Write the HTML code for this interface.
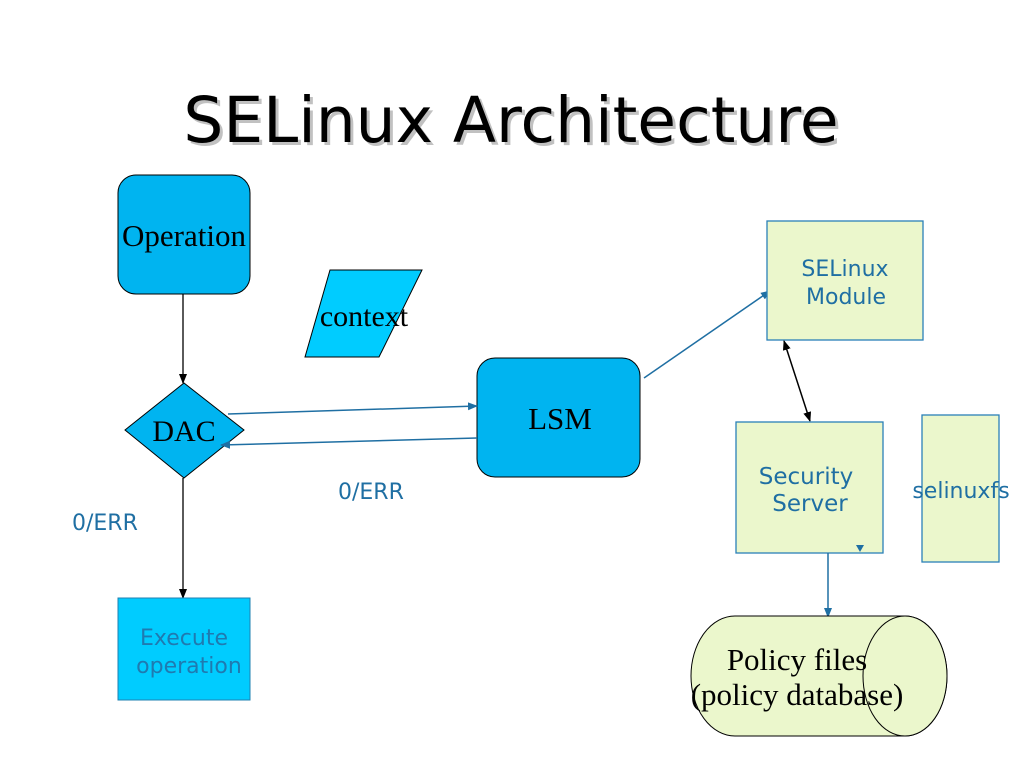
<!DOCTYPE html>
<html><head><meta charset="utf-8"><style>body{margin:0;background:#fff}svg{display:block}</style></head><body>
<svg width="1024" height="768" viewBox="0 0 1024 768" xmlns="http://www.w3.org/2000/svg">
<defs>
<marker id="ab" markerWidth="10" markerHeight="10" refX="9" refY="5" orient="auto" markerUnits="userSpaceOnUse"><path d="M0,1 L10,5 L0,9 z" fill="#000"/></marker>
<marker id="ab2" markerWidth="10" markerHeight="10" refX="1" refY="5" orient="auto" markerUnits="userSpaceOnUse"><path d="M10,1 L0,5 L10,9 z" fill="#000"/></marker>
<marker id="au" markerWidth="10" markerHeight="10" refX="9" refY="5" orient="auto" markerUnits="userSpaceOnUse"><path d="M0,1 L10,5 L0,9 z" fill="#1f6fa3"/></marker>
</defs>
<text x="514" y="145" text-anchor="middle" font-family="'DejaVu Sans','Liberation Sans',sans-serif" font-size="63" fill="#999" opacity="0.6">SELinux Architecture</text>
<text x="511" y="142" text-anchor="middle" font-family="'DejaVu Sans','Liberation Sans',sans-serif" font-size="63" fill="#000">SELinux Architecture</text>

<rect x="118" y="175" width="132" height="119" rx="18" fill="#00b4f0" stroke="#000" stroke-width="1"/>
<text x="184" y="246" text-anchor="middle" font-family="'Liberation Serif',serif" font-size="31">Operation</text>

<polygon points="330,270 422,270 379,357 305,357" fill="#00ccff" stroke="#000"/>
<text x="364" y="326" text-anchor="middle" font-family="'Liberation Serif',serif" font-size="30">context</text>

<line x1="183" y1="294" x2="183" y2="383" stroke="#000" stroke-width="1.3" marker-end="url(#ab)"/>
<polygon points="184,383 244,430 184,478 125,430" fill="#00b4f0" stroke="#000"/>
<text x="184" y="441" text-anchor="middle" font-family="'Liberation Serif',serif" font-size="30">DAC</text>
<line x1="183" y1="478" x2="183" y2="598" stroke="#000" stroke-width="1.3" marker-end="url(#ab)"/>

<rect x="477" y="358" width="163" height="119" rx="18" fill="#00b4f0" stroke="#000"/>
<text x="560" y="429" text-anchor="middle" font-family="'Liberation Serif',serif" font-size="31">LSM</text>

<line x1="228" y1="414" x2="477" y2="406" stroke="#1f6fa3" stroke-width="1.5" marker-end="url(#au)"/>
<line x1="477" y1="438" x2="221" y2="445" stroke="#1f6fa3" stroke-width="1.5" marker-end="url(#au)"/>

<g font-family="'DejaVu Sans','Liberation Sans',sans-serif" font-size="22" fill="#1f6fa3">
<text x="338" y="499">0/ERR</text>
<text x="72" y="530">0/ERR</text>
</g>

<rect x="118" y="598" width="132" height="102" fill="#00ccff" stroke="#1f80b0"/>
<g font-family="'DejaVu Sans','Liberation Sans',sans-serif" font-size="22" fill="#1f7ab0" text-anchor="middle">
<text x="184" y="645">Execute</text>
<text x="189" y="673">operation</text>
</g>

<line x1="644" y1="378" x2="770" y2="291" stroke="#1f6fa3" stroke-width="1.5" marker-end="url(#au)"/>
<rect x="767" y="221" width="156" height="119" fill="#ebf7cc" stroke="#2a80b8" stroke-width="1.3"/>
<g font-family="'DejaVu Sans','Liberation Sans',sans-serif" font-size="22" fill="#1f6fa3" text-anchor="middle">
<text x="845" y="276">SELinux</text>
<text x="846" y="304">Module</text>
</g>
<line x1="784" y1="341" x2="810" y2="421" stroke="#000" stroke-width="1.5" marker-start="url(#ab2)" marker-end="url(#ab)"/>

<rect x="736" y="422" width="147" height="131" fill="#ebf7cc" stroke="#2a80b8" stroke-width="1.3"/>
<g font-family="'DejaVu Sans','Liberation Sans',sans-serif" font-size="23" fill="#1f6fa3" text-anchor="middle">
<text x="806" y="484">Security</text>
<text x="810" y="511">Server</text>
</g>
<polygon points="856,545 864,545 860,552" fill="#1f6fa3"/>

<rect x="922" y="415" width="77" height="147" fill="#ebf7cc" stroke="#2a80b8" stroke-width="1.3"/>
<text x="961" y="498" text-anchor="middle" font-family="'DejaVu Sans','Liberation Sans',sans-serif" font-size="22" fill="#1f6fa3">selinuxfs</text>

<line x1="828" y1="553" x2="828" y2="617" stroke="#1f6fa3" stroke-width="1.5" marker-end="url(#au)"/>

<path d="M735,616 L905,616 A42,60 0 0 1 905,736 L735,736 A44,60 0 0 1 735,616 z" fill="#ebf7cc" stroke="#000"/>
<ellipse cx="905" cy="676" rx="42" ry="60" fill="#ebf7cc" stroke="#000"/>
<g font-family="'Liberation Serif',serif" font-size="31" fill="#000" text-anchor="middle">
<text x="797" y="670">Policy files</text>
<text x="797" y="705">(policy database)</text>
</g>
</svg>
</body></html>
